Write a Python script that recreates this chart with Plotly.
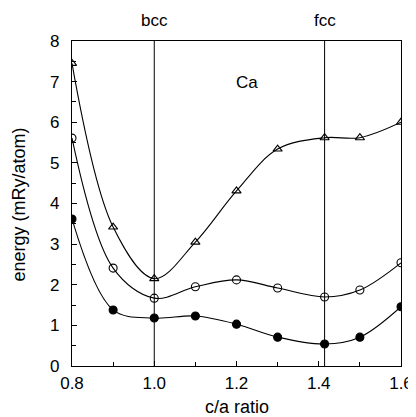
import plotly.graph_objects as go
import math

c_over_a = [0.8, 0.9, 1.0, 1.1, 1.2, 1.3, math.sqrt(2), 1.5, 1.6]
energy_triangle = [7.45, 3.42, 2.15, 3.05, 4.31, 5.34, 5.62, 5.62, 6.0]
energy_open = [5.61, 2.41, 1.67, 1.95, 2.12, 1.92, 1.70, 1.87, 2.54]
energy_filled = [3.62, 1.38, 1.18, 1.23, 1.03, 0.71, 0.54, 0.71, 1.46]
phase_x = [1.0, math.sqrt(2)]
phase_labels = ["bcc", "fcc"]
x_ticks = [0.8, 1.0, 1.2, 1.4, 1.6]
y_ticks = [0, 1, 2, 3, 4, 5, 6, 7, 8]

font = dict(family="Liberation Sans, Arial, sans-serif", color="black")

fig = go.Figure()
series = [
    (energy_triangle, "triangle-up-open", "black"),
    (energy_open, "circle-open", "black"),
    (energy_filled, "circle", "black"),
]
for vals, sym, col in series:
    fig.add_trace(go.Scatter(
        x=c_over_a, y=vals, mode="lines+markers",
        line=dict(color="black", width=1.1, shape="spline", smoothing=1.0),
        marker=dict(symbol=sym, size=8, color=col, line=dict(color="black", width=1.1)),
        showlegend=False,
    ))

for px, lab in zip(phase_x, phase_labels):
    fig.add_shape(type="line", x0=px, x1=px, y0=0, y1=8, xref="x", yref="y",
                  line=dict(color="black", width=1))
    fig.add_annotation(x=px, y=1.0, xref="x", yref="paper", yshift=21, text=lab,
                       showarrow=False, font=dict(size=17, **font), yanchor="middle")

fig.add_annotation(x=1.225, y=6.97, xref="x", yref="y", text="Ca", showarrow=False,
                   font=dict(size=17, **font))

# axis titles
fig.add_annotation(x=0.5, y=0, xref="paper", yref="paper", yshift=-41, text="c/a ratio",
                   showarrow=False, font=dict(size=18, **font), yanchor="middle", xanchor="center")
fig.add_annotation(x=0, y=0.5, xref="paper", yref="paper", xshift=-54, yshift=-1,
                   text="energy (mRy/atom)", textangle=-90,
                   showarrow=False, font=dict(size=18, **font), yanchor="middle", xanchor="center")

fig.update_layout(
    width=408, height=409,
    margin=dict(l=64, r=15, t=33, b=51),
    paper_bgcolor="white", plot_bgcolor="white",
    font=dict(size=15, **font),
    xaxis=dict(range=[0.8, 1.6], tickvals=x_ticks, ticktext=["0.8", "1.0", "1.2", "1.4", "1.6"],
               ticks="inside", ticklen=5, tickcolor="black",
               minor=dict(dtick=0.1, ticks="inside", ticklen=4, tickcolor="black"),
               showline=True, linecolor="black", linewidth=1.2, mirror=True,
               showgrid=False, zeroline=False, ticklabelstandoff=1, automargin=False,
               tickfont=dict(size=17, **font)),
    yaxis=dict(range=[0, 8], tickvals=y_ticks,
               ticks="inside", ticklen=5, tickcolor="black",
               minor=dict(dtick=0.5, ticks="inside", ticklen=4, tickcolor="black"),
               showline=True, linecolor="black", linewidth=1.2, mirror=True,
               showgrid=False, zeroline=False, ticklabelstandoff=8, automargin=False,
               tickfont=dict(size=17, **font)),
)

fig.write_html("out.html")
